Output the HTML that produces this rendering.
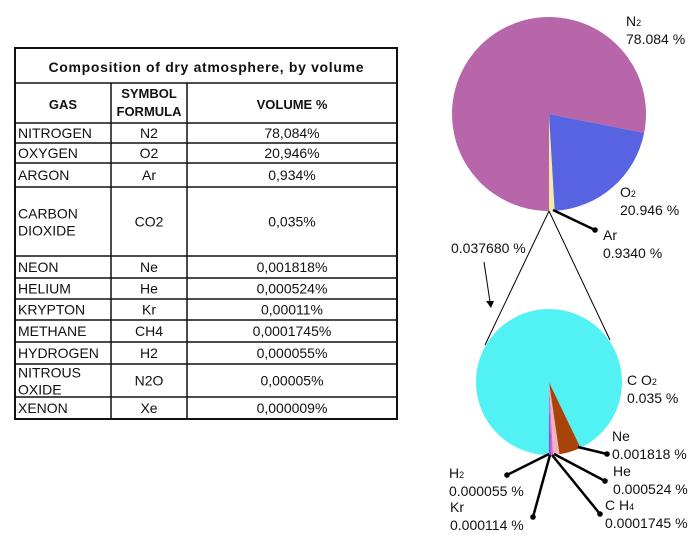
<!DOCTYPE html>
<html><head><meta charset="utf-8"><style>
body{margin:0;background:#fff;width:700px;height:549px;overflow:hidden}
svg text{font-family:"Liberation Sans",sans-serif;fill:#111}
</style></head><body>
<svg width="700" height="549" viewBox="0 0 700 549">
<g id="table"></g>
<g id="pies"></g>
</svg>
<script>
// Table data
const gasNames=[["NITROGEN"],["OXYGEN"],["ARGON"],["CARBON","DIOXIDE"],["NEON"],["HELIUM"],["KRYPTON"],["METHANE"],["HYDROGEN"],["NITROUS","OXIDE"],["XENON"]];
const gasSymbols=["N2","O2","Ar","CO2","Ne","He","Kr","CH4","H2","N2O","Xe"];
const gasVolumes=["78,084%","20,946%","0,934%","0,035%","0,001818%","0,000524%","0,00011%","0,0001745%","0,000055%","0,00005%","0,000009%"];
// Main pie data
const mainLabels=["Ar","O2","N2"];
const mainValues=[0.934,20.946,78.084];
const mainPrinted=["0.9340 %","20.946 %","78.084 %"];
// Detail pie data
const detailLabels=["H2","Kr","CH4","He","Ne","CO2"];
const detailValues=[0.000055,0.000114,0.0001745,0.000524,0.001818,0.035];
const detailPrinted=["0.000055 %","0.000114 %","0.0001745 %","0.000524 %","0.001818 %","0.035 %"];
const detailTotal="0.037680 %";

const NS="http://www.w3.org/2000/svg";
function mk(tag,attrs,parent){const e=document.createElementNS(NS,tag);for(const k in attrs)e.setAttribute(k,attrs[k]);parent.appendChild(e);return e;}
function txt(parent,x,y,s,size,weight,anchor){const t=mk("text",{x:x,y:y,"font-size":size||13,"font-weight":weight||"normal","text-anchor":anchor||"start"},parent);t.textContent=s;return t;}

// ---- Table ----
const tg=document.getElementById("table");
const X0=15,X1=111,X2=187,X3=397;
const rowTops=[123,143,163,187,256,278,299,320,342,364,397,419];
mk("rect",{x:X0,y:48,width:X3-X0,height:419-48,fill:"none",stroke:"#111","stroke-width":2},tg);
let t=txt(tg,(X0+X3)/2,72,"Composition of dry atmosphere, by volume",14,"bold","middle");
t.setAttribute("font-family","'Liberation Sans Narrow','Liberation Sans',sans-serif");
t.setAttribute("textLength","315");


mk("line",{x1:X0,y1:83,x2:X3,y2:83,stroke:"#111","stroke-width":1.5},tg);
[X1,X2].forEach(x=>mk("line",{x1:x,y1:83,x2:x,y2:419,stroke:"#111","stroke-width":1.5},tg));
txt(tg,(X0+X1)/2,109,"GAS",13,"bold","middle");
txt(tg,(X1+X2)/2,98,"SYMBOL",13,"bold","middle");
txt(tg,(X1+X2)/2,116,"FORMULA",13,"bold","middle");
txt(tg,(X2+X3)/2,109,"VOLUME %",13,"bold","middle");
for(let i=0;i<rowTops.length-1;i++){
  const y0=rowTops[i],y1=rowTops[i+1],mid=(y0+y1)/2;
  mk("line",{x1:X0,y1:y0,x2:X3,y2:y0,stroke:"#111","stroke-width":1.5},tg);
  const g=mk("g",{},tg);
  
  
  const n=gasNames[i];
  if(n.length===1) txt(g,X0+3,mid+5,n[0],14);
  else {txt(g,X0+3,mid-3,n[0],14);txt(g,X0+3,mid+14,n[1],14);}
  txt(g,(X1+X2)/2,mid+5,gasSymbols[i],14,"normal","middle");
  txt(g,(X2+X3)/2,mid+5,gasVolumes[i],14,"normal","middle");
}

// ---- Pies ----
const pg=document.getElementById("pies");
function pt(cx,cy,r,a){return [cx+r*Math.cos(a),cy+r*Math.sin(a)];}
function drawPie(cx,cy,r,values,colors,names){
  const tot=values.reduce((a,b)=>a+b,0);let a=Math.PI/2;const mids=[];
  values.forEach((v,i)=>{
    const da=v/tot*2*Math.PI;const a2=a-da;
    const p1=pt(cx,cy,r,a),p2=pt(cx,cy,r,a2);
    const large=da>Math.PI?1:0;
    const p=mk("path",{d:`M${cx},${cy}L${p1[0]},${p1[1]}A${r},${r} 0 ${large} 0 ${p2[0]},${p2[1]}Z`,fill:colors[i]},pg);
    
    
    mids.push((a+a2)/2);a=a2;
  });
  return mids;
}
drawPie(549,114,97,mainValues,["#f6eba8","#5763e0","#b767a9"],["slice-ar","slice-o2","slice-n2"]);
drawPie(549,382,73,detailValues,["#8a3be0","#9b3fe8","#d070c8","#f1b1c0","#a8430a","#52f2f4"],["slice-h2","slice-kr","slice-ch4","slice-he","slice-ne","slice-co2"]);

function leader(x1,y1,x2,y2,name){
  const g=mk("g",{},pg);
  
  
  mk("line",{x1:x1,y1:y1,x2:x2,y2:y2,stroke:"#000","stroke-width":2.5},g);
  mk("circle",{cx:x2,cy:y2,r:2.8,fill:"#000"},g);
}
function sublabel(x,y,base,sub,val,name){
  const g=mk("g",{},pg);
  
  
  const t=mk("text",{x:x,y:y,"font-size":14},g);
  t.appendChild(document.createTextNode(base));
  if(sub){const s=mk("tspan",{"font-size":9},t);s.textContent=sub;}
  txt(g,x,y+18,val,14);
}
// main labels
sublabel(626,26,"N","2",mainPrinted[2],"label-n2");
sublabel(620,197,"O","2",mainPrinted[1],"label-o2");
leader(553,210,595,230,"leader-ar");
sublabel(603,240,"Ar","",mainPrinted[0],"label-ar");
// zoom lines
mk("line",{x1:549,y1:211,x2:485,y2:345,stroke:"#000","stroke-width":1},pg);
mk("line",{x1:549,y1:211,x2:610,y2:340,stroke:"#000","stroke-width":1},pg);
mk("line",{x1:484,y1:262,x2:490,y2:302,stroke:"#000","stroke-width":1},pg);
mk("path",{d:"M486,301L494,301L491,308Z",fill:"#000"},pg);
t=txt(pg,451,253,detailTotal,14);


// detail labels
sublabel(627,385,"C O","2",detailPrinted[5],"label-co2");
leader(578,447,607,454,"leader-ne");
sublabel(612,441,"Ne","",detailPrinted[4],"label-ne");
leader(554,454,605,481,"leader-he");
sublabel(613,476,"He","",detailPrinted[3],"label-he");
leader(552,455,600,514,"leader-ch4");
sublabel(605,510,"C H","4",detailPrinted[2],"label-ch4");
leader(550,455,533,517,"leader-kr");
sublabel(450,512,"Kr","",detailPrinted[1],"label-kr");
leader(549,454,507,475,"leader-h2");
sublabel(449,478,"H","2",detailPrinted[0],"label-h2");
</script>
</body></html>
